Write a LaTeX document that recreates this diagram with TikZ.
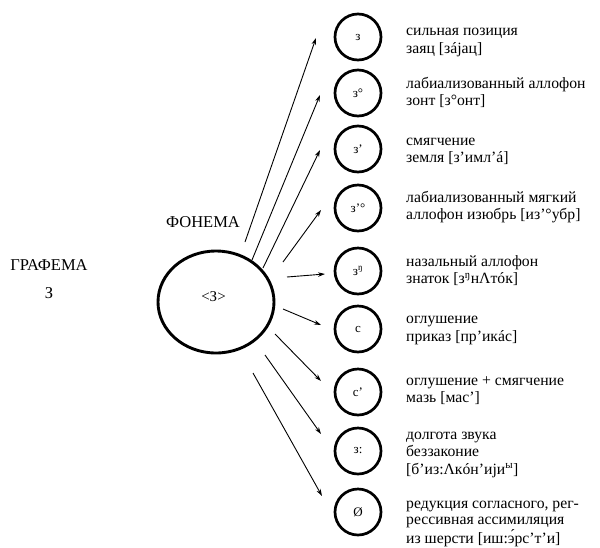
\documentclass[tikz,border=0pt]{standalone}
\usepackage{fontspec}
\setmainfont{Liberation Serif}
\usetikzlibrary{arrows.meta}
\begin{document}
\begin{tikzpicture}[x=1pt,y=-1pt,
  small/.style={draw,circle,line width=2.7pt,minimum size=46pt,inner sep=0pt,font=\fontsize{13}{13}\selectfont},
  desc/.style={anchor=base west,align=left,inner sep=0pt,font=\fontsize{15.7}{17.5}\selectfont},
  arr/.style={-{Stealth[length=7pt,width=4.5pt]},line width=0.9pt},
  lbl/.style={font=\fontsize{16.5}{18}\selectfont,inner sep=0pt}]
\useasboundingbox (0,0) rectangle (600,547);
\fill[white] (0,0) rectangle (600,547);
% left labels
\node[lbl] (graf) at (49,265) {ГРАФЕМА};
\node[lbl] (grafz) at (49,293) {З};
\node[lbl] (fon) at (203,222) {ФОНЕМА};
% big circle
\draw[line width=2.9pt] (216,302) ellipse [x radius=58, y radius=51];
\node[font=\fontsize{15}{15}\selectfont,inner sep=0pt] (ph) at (213.5,297) {<З>};
% small circles
\node[small] (c1) at (358,37) {з\hspace{9pt}};
\node[small] (c2) at (358,93) {з°\hspace{5pt}};
\node[small] (c3) at (358,149) {з’\hspace{5pt}};
\node[small] (c4) at (358,208) {з’°\hspace{5pt}};
\node[small] (c5) at (358,271) {з\textsuperscript{ŋ}\hspace{2pt}};
\node[small] (c6) at (358,329) {с};
\node[small] (c7) at (358,392) {с’};
\node[small] (c8) at (358,451) {з:};
\node[small] (c9) at (358,512) {Ø};
% descriptions (anchor = baseline of last line)
\node[desc] (d1) at (406,53) {сильная позиция\\заяц [зáјац]};
\node[desc] (d2) at (406,105.5) {лабиализованный аллофон\\зонт [з°онт]};
\node[desc] (d3) at (406,162.5) {смягчение\\земля [з’имл’á]};
\node[desc] (d4) at (406,219.5) {лабиализованный мягкий\\аллофон изюбрь [из’°убр]};
\node[desc] (d5) at (406,283.5) {назальный аллофон\\знаток [з\textsuperscript{ŋ}нΛтóк]};
\node[desc] (d6) at (406,341) {оглушение\\приказ [пр’икáс]};
\node[desc] (d7) at (406,402.5) {оглушение + смягчение\\мазь [мас’]};
\node[desc] (d8) at (406,474) {долгота звука\\беззаконие\\{}[б’из:Λкóн’ији\textsuperscript{ы}]};
\node[desc,font=\fontsize{15.7}{16.2}\selectfont] (d9) at (406,543) {редукция согласного, рег-\\рессивная ассимиляция\\из шерсти [иш:э́рс’т’и]};
% arrow coordinates
\coordinate (s1) at (245,242); \coordinate (e1) at (316,38);
\coordinate (s2) at (252,260); \coordinate (e2) at (320,95);
\coordinate (s3) at (263,268); \coordinate (e3) at (320,150);
\coordinate (s4) at (283,262); \coordinate (e4) at (321,210);
\coordinate (s5) at (287,277); \coordinate (e5) at (325,274);
\coordinate (s6) at (283,309); \coordinate (e6) at (321,325);
\coordinate (s7) at (275,334); \coordinate (e7) at (321,381);
\coordinate (s8) at (265,355); \coordinate (e8) at (321,434);
\coordinate (s9) at (253,373); \coordinate (e9) at (322,496);
\foreach \i in {1,...,9} {\draw[arr] (s\i) -- (e\i);}
\end{tikzpicture}
\end{document}
